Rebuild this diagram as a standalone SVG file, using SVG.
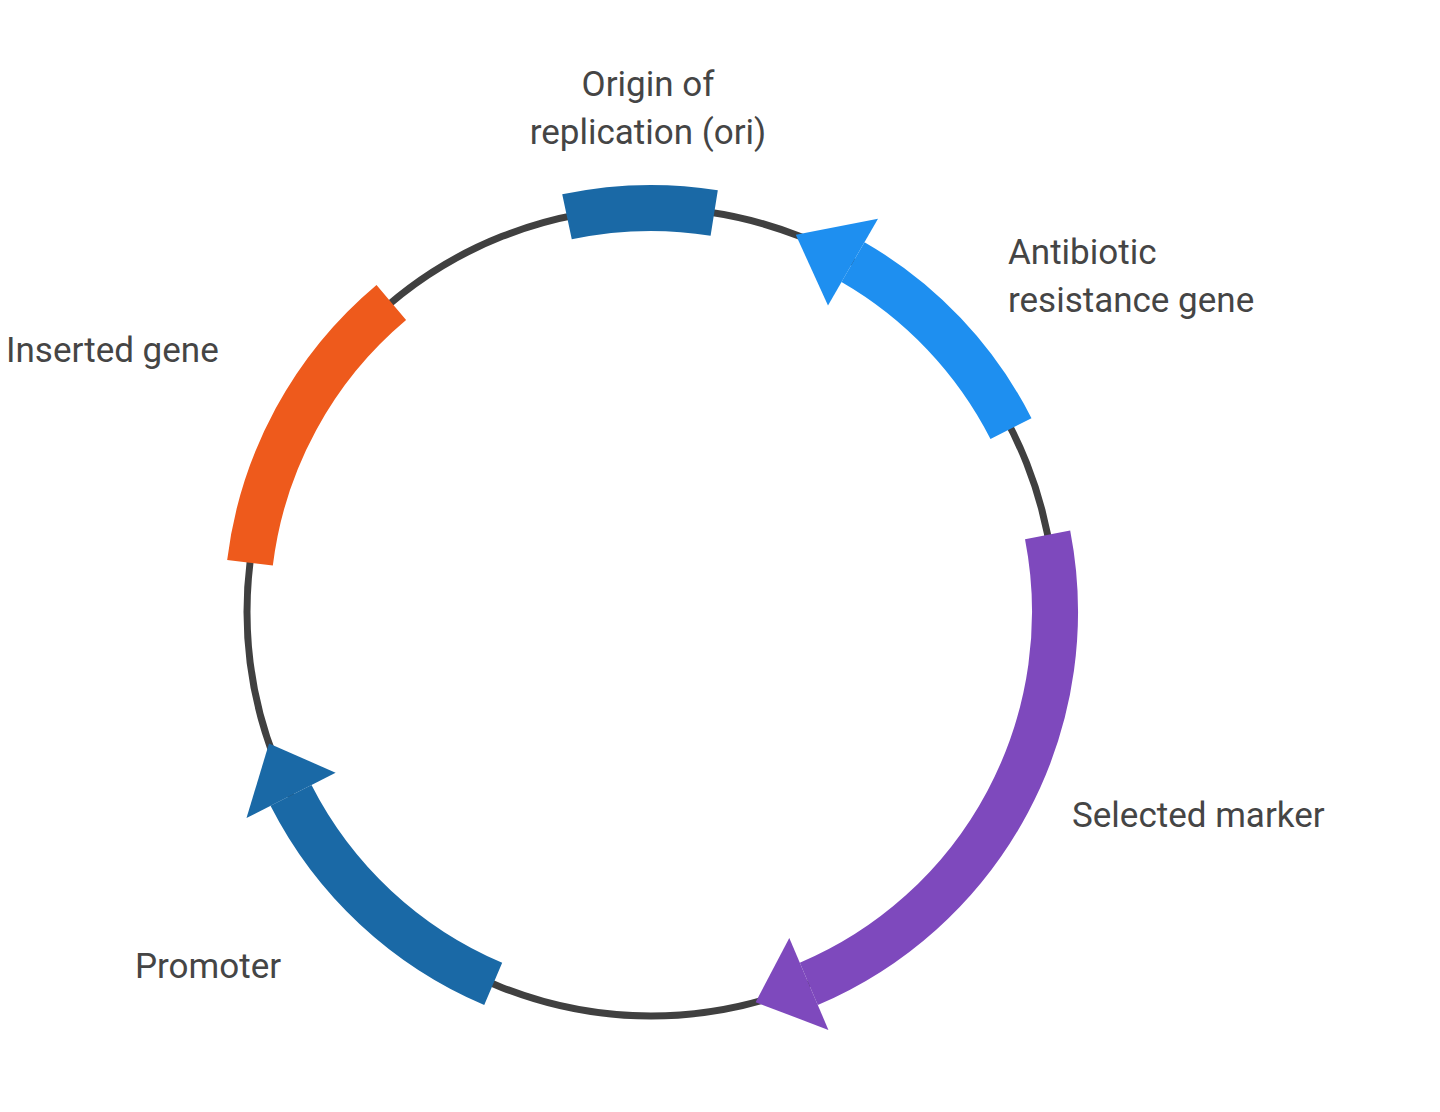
<svg xmlns="http://www.w3.org/2000/svg" width="1440" height="1112" viewBox="0 0 1440 1112">
<style>
.lbl{font-family:Roboto,"Liberation Sans",sans-serif;font-size:35px;fill:#454545}
.seg{fill:none;stroke-width:46}
</style>
<rect width="1440" height="1112" fill="#fff"/>
<g id="connectors">
<circle cx="651" cy="612" r="404" fill="none" stroke="#404040" stroke-width="7"/>
</g>
<g id="ori">
<path class="seg" stroke="#1a69a6" d="M567,216.8 A404,404 0 0 1 714.2,213"/>
<text class="lbl" x="648" y="96" text-anchor="middle">Origin of</text>
<text class="lbl" x="648" y="144" text-anchor="middle">replication (ori)</text>
</g>
<g id="antibiotic">
<path class="seg" stroke="#1e8ff0" d="M1011,428.6 A404,404 0 0 0 853,262.1"/>
<polygon fill="#1e8ff0" points="878,218.8 795.8,234.8 828,305.4"/>
<text class="lbl" x="1008" y="264">Antibiotic</text>
<text class="lbl" x="1008" y="312">resistance gene</text>
</g>
<g id="inserted">
<path class="seg" stroke="#ee5a1c" d="M250,562.8 A404,404 0 0 1 391.3,302.5"/>
<text class="lbl" x="6" y="362">Inserted gene</text>
</g>
<g id="selected">
<path class="seg" stroke="#7e49bd" d="M1047.6,534.9 A404,404 0 0 1 808.8,983.9"/>
<polygon fill="#7e49bd" points="828.4,1029.9 755.6,1002.2 789.3,937.9"/>
<text class="lbl" x="1072" y="827">Selected marker</text>
</g>
<g id="promoter">
<path class="seg" stroke="#1a69a6" d="M493.2,983.9 A404,404 0 0 1 291,795.4"/>
<polygon fill="#1a69a6" points="246.5,818.1 269,743.5 335.6,772.7"/>
<text class="lbl" x="135" y="978">Promoter</text>
</g>
</svg>
